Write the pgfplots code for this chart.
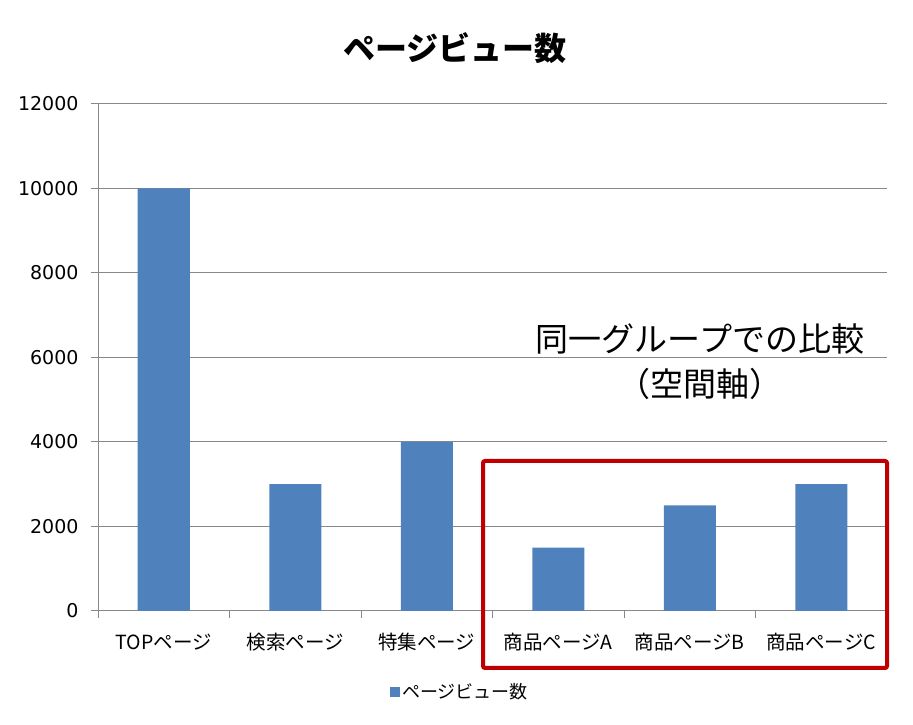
\documentclass[border=0pt]{standalone}
\usepackage{fontspec}
\setmainfont{Noto Sans CJK JP}
\newfontfamily\dejavu{DejaVu Sans}
\usepackage{pgfplots}
\pgfplotsset{compat=1.18}
\definecolor{barblue}{HTML}{4F81BD}
\definecolor{gridgray}{HTML}{888888}
\definecolor{boxred}{HTML}{C00000}
\begin{document}
\begin{tikzpicture}
\useasboundingbox (0pt,0pt) rectangle (913pt,725pt);
\begin{axis}[
  at={(98pt,114pt)}, anchor=south west,
  scale only axis, width=789pt, height=507pt,
  ymin=0, ymax=12000, ytick={0,2000,...,12000},
  xmin=-0.5, xmax=5.5,
  xtick={0,...,5},
  xticklabels={TOPページ,検索ページ,特集ページ,商品ページA,商品ページB,商品ページC},
  minor xtick={-0.5,0.5,...,5.5},
  axis x line*=bottom, axis y line*=left,
  axis line style={gridgray, line width=1pt, -},
  ymajorgrids, major grid style={gridgray, line width=1pt},
  tick align=outside,
  major x tick style={draw=none},
  minor x tick style={gridgray, line width=1pt},
  major y tick style={gridgray, line width=1pt},
  major tick length=7pt, minor tick length=7pt,
  scaled y ticks=false,
  /pgf/number format/1000 sep={},
  /pgf/number format/assume math mode=true,
  yticklabel style={font=\dejavu\fontsize{19}{19}\selectfont, xshift=-9pt},
  xticklabel style={font=\fontsize{19.5}{19.5}\selectfont, yshift=-12pt},
  ybar, bar width=52pt,
  legend style={at={(0.459,-0.16)}, anchor=center, draw=none,
    font=\fontsize{18}{18}\selectfont},
  legend image code/.code={\fill[barblue] (0pt,-5pt) rectangle (10pt,5pt);},
]
\addplot[fill=barblue, draw=none] coordinates {(0,10000) (1,3000) (2,4000) (3,1500) (4,2500) (5,3000)};
\addlegendentry{ページビュー数}
\end{axis}
\node[font=\fontsize{32}{32}\selectfont\bfseries] at (455pt,677pt) {ページビュー数};
\node[align=center, font=\fontsize{33}{45}\selectfont] at (700pt,363pt) {同一グループでの比較\\（空間軸）};
\draw[boxred, line width=4pt, rounded corners=2pt] (483pt,57pt) rectangle (887pt,264pt);
\end{tikzpicture}
\end{document}
